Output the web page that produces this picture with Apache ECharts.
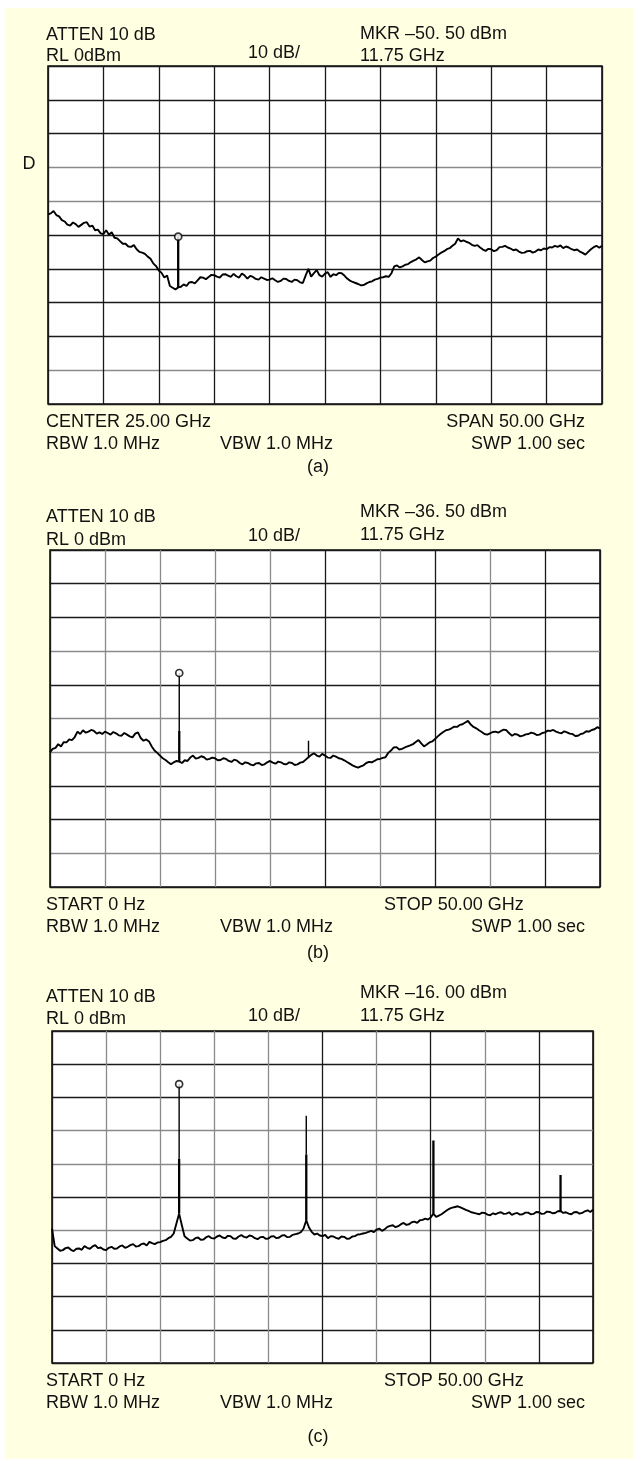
<!DOCTYPE html>
<html><head><meta charset="utf-8">
<script src="https://cdn.jsdelivr.net/npm/echarts/dist/echarts.min.js"></script>
<style>
html,body{margin:0;padding:0;background:#fff;}
#bg{position:absolute;left:6px;top:8px;width:627px;height:1451px;background:#FFFFE1;}
#c{position:absolute;left:0;top:0;width:633px;height:1459px;}
</style>
</head><body><div id="bg"></div><div id="c"></div>
<script>
// ---- data ----
const freqs = [0,0.25,0.5,0.75,1,1.25,1.5,1.75,2,2.25,
  2.5,2.75,3,3.25,3.5,3.75,4,4.25,4.5,4.75,
  5,5.25,5.5,5.75,6,6.25,6.5,6.75,7,7.25,
  7.5,7.75,8,8.25,8.5,8.75,9,9.25,9.5,9.75,
  10,10.25,10.5,10.75,11,11.25,11.5,11.75,12,12.25,
  12.5,12.75,13,13.25,13.5,13.75,14,14.25,14.5,14.75,
  15,15.25,15.5,15.75,16,16.25,16.5,16.75,17,17.25,
  17.5,17.75,18,18.25,18.5,18.75,19,19.25,19.5,19.75,
  20,20.25,20.5,20.75,21,21.25,21.5,21.75,22,22.25,
  22.5,22.75,23,23.25,23.5,23.75,24,24.25,24.5,24.75,
  25,25.25,25.5,25.75,26,26.25,26.5,26.75,27,27.25,
  27.5,27.75,28,28.25,28.5,28.75,29,29.25,29.5,29.75,
  30,30.25,30.5,30.75,31,31.25,31.5,31.75,32,32.25,
  32.5,32.75,33,33.25,33.5,33.75,34,34.25,34.5,34.75,
  35,35.25,35.5,35.75,36,36.25,36.5,36.75,37,37.25,
  37.5,37.75,38,38.25,38.5,38.75,39,39.25,39.5,39.75,
  40,40.25,40.5,40.75,41,41.25,41.5,41.75,42,42.25,
  42.5,42.75,43,43.25,43.5,43.75,44,44.25,44.5,44.75,
  45,45.25,45.5,45.75,46,46.25,46.5,46.75,47,47.25,
  47.5,47.75,48,48.25,48.5,48.75,49,49.25,49.5,49.75,
  50];
const traceA = [-43.9,-43.6,-42.9,-44.1,-44.5,-45.6,-46.0,-46.9,-47.2,-46.3,
  -46.8,-47.6,-47.0,-46.4,-46.2,-47.5,-47.2,-48.6,-48.4,-49.5,
  -49.7,-48.6,-49.9,-49.2,-50.8,-51.0,-51.8,-52.6,-52.6,-53.4,
  -53.5,-53.0,-54.2,-55.0,-55.2,-55.6,-56.4,-57.0,-58.4,-59.2,
  -60.5,-61.2,-62.6,-62.0,-65.1,-65.6,-66.1,-65.5,-65.3,-64.6,
  -65.1,-64.0,-63.9,-64.3,-63.4,-62.5,-62.6,-63.1,-62.4,-61.8,
  -61.9,-62.3,-62.6,-61.7,-61.6,-62.0,-62.4,-61.5,-62.2,-62.6,
  -61.4,-62.0,-62.9,-62.1,-62.4,-63.0,-63.2,-62.5,-62.9,-63.3,
  -63.2,-62.8,-63.4,-63.9,-63.6,-62.9,-63.0,-63.6,-63.9,-63.2,
  -63.4,-64.0,-64.2,-62.0,-60.0,-62.3,-61.3,-60.4,-61.9,-62.3,
  -61.4,-61.0,-62.4,-61.6,-61.9,-61.2,-61.3,-62.0,-62.9,-63.5,
  -63.9,-64.2,-64.5,-64.9,-64.8,-64.3,-63.9,-63.7,-63.2,-63.0,
  -62.6,-62.5,-62.2,-62.4,-61.3,-59.3,-59.0,-59.6,-59.3,-58.8,
  -58.6,-58.0,-57.6,-57.2,-56.6,-57.4,-58.1,-57.8,-57.6,-56.8,
  -56.4,-55.8,-55.2,-54.8,-54.2,-53.9,-53.2,-52.6,-51.0,-51.9,
  -51.6,-52.0,-52.3,-52.9,-53.2,-53.0,-53.7,-54.3,-54.7,-54.1,
  -54.2,-54.8,-54.5,-53.6,-53.5,-53.2,-53.7,-54.0,-54.5,-54.3,
  -54.9,-55.3,-55.2,-54.8,-54.7,-55.2,-54.9,-54.3,-54.5,-54.0,
  -54.2,-53.6,-53.7,-53.2,-53.5,-53.1,-53.9,-53.4,-53.7,-54.2,
  -54.5,-54.3,-54.9,-55.3,-55.8,-55.0,-54.2,-53.6,-53.2,-53.8,
  -53.2];
const traceB = [-60.0,-59.0,-58.7,-57.6,-58.3,-57.0,-57.1,-56.2,-56.4,-55.5,
  -53.9,-54.6,-53.5,-54.2,-53.9,-53.4,-53.7,-54.5,-54.1,-54.6,
  -53.9,-54.3,-54.8,-54.0,-54.4,-55.0,-55.1,-54.3,-54.8,-55.3,
  -55.6,-54.5,-54.1,-55.8,-56.6,-56.2,-56.8,-58.3,-59.5,-60.2,
  -61.0,-61.8,-62.3,-63.0,-63.6,-63.0,-62.6,-62.8,-63.2,-62.4,
  -62.6,-61.6,-61.0,-61.9,-61.7,-61.2,-61.5,-62.2,-62.0,-61.6,
  -61.8,-62.4,-62.3,-61.8,-62.0,-62.6,-62.9,-62.2,-62.5,-63.2,
  -63.6,-63.0,-63.2,-63.7,-63.9,-63.3,-63.2,-63.8,-63.6,-63.0,
  -62.6,-63.1,-63.4,-62.8,-63.0,-63.5,-63.6,-63.0,-63.2,-63.8,
  -63.6,-63.1,-62.9,-62.2,-61.5,-60.8,-60.3,-61.0,-61.3,-60.5,
  -61.0,-61.6,-61.7,-61.0,-61.3,-61.8,-62.0,-62.4,-62.9,-63.4,
  -63.9,-64.3,-64.6,-64.2,-63.9,-63.2,-62.9,-63.0,-62.6,-62.1,
  -62.0,-61.7,-61.5,-60.2,-59.5,-58.6,-58.5,-59.2,-59.0,-58.6,
  -58.3,-58.0,-57.6,-57.0,-56.4,-57.4,-58.3,-57.7,-57.1,-56.8,
  -56.1,-55.3,-54.6,-54.0,-53.5,-53.3,-52.9,-52.4,-52.5,-51.9,
  -51.7,-51.2,-50.7,-51.8,-52.5,-52.9,-53.5,-54.0,-54.6,-54.8,
  -54.4,-54.0,-53.9,-54.2,-53.7,-53.3,-53.5,-54.4,-55.1,-54.6,
  -54.8,-55.3,-55.1,-54.7,-54.6,-54.2,-54.4,-54.9,-54.8,-54.3,
  -54.1,-53.6,-53.7,-53.4,-53.9,-54.2,-54.4,-53.8,-54.1,-54.5,
  -54.6,-55.2,-55.1,-54.6,-54.4,-53.8,-53.9,-53.4,-53.2,-52.6,
  -52.9];
const traceC = [-59.5,-64.8,-65.5,-66.2,-66.0,-65.4,-65.2,-65.9,-66.3,-65.6,
  -65.5,-65.9,-64.8,-65.3,-65.6,-64.9,-64.5,-65.4,-65.2,-65.8,
  -66.0,-65.3,-65.0,-65.6,-65.5,-64.9,-64.6,-65.3,-65.0,-64.5,
  -64.2,-64.9,-64.8,-64.2,-64.0,-64.6,-63.5,-63.9,-64.2,-63.7,
  -63.6,-63.2,-63.0,-62.4,-62.0,-61.0,-58.0,-55.0,-58.5,-61.8,
  -62.5,-63.1,-63.0,-62.4,-62.2,-62.9,-62.8,-62.1,-61.8,-62.4,
  -62.5,-61.9,-61.6,-62.2,-62.4,-61.7,-61.8,-62.5,-62.6,-61.9,
  -61.5,-62.0,-62.2,-61.6,-61.8,-62.4,-62.7,-62.1,-62.0,-62.6,
  -62.5,-61.9,-61.8,-62.4,-62.2,-61.6,-61.5,-62.1,-62.0,-61.4,
  -61.2,-61.0,-60.6,-59.5,-57.0,-59.2,-60.5,-61.3,-61.0,-61.6,
  -61.8,-61.4,-62.4,-61.8,-61.9,-62.3,-62.6,-61.9,-62.0,-62.6,
  -62.5,-61.9,-61.8,-61.3,-61.2,-61.0,-60.8,-60.5,-60.2,-60.6,
  -59.8,-59.5,-60.2,-59.7,-59.0,-58.7,-58.5,-59.1,-58.8,-58.2,
  -57.8,-58.4,-58.2,-57.6,-57.4,-57.8,-57.0,-56.9,-56.5,-56.8,
  -56.2,-55.0,-56.0,-55.6,-55.2,-54.6,-54.0,-53.5,-53.2,-53.0,
  -52.8,-53.1,-53.5,-53.9,-54.2,-54.6,-54.8,-55.0,-55.2,-54.7,
  -54.8,-55.3,-55.5,-54.9,-55.2,-54.8,-54.6,-55.1,-55.0,-54.6,
  -55.4,-55.0,-54.8,-55.3,-55.2,-54.7,-54.7,-55.2,-55.1,-54.5,
  -54.6,-55.1,-55.0,-54.4,-54.5,-54.9,-54.8,-54.3,-54.2,-54.8,
  -54.6,-55.0,-55.2,-54.6,-54.5,-55.0,-54.8,-54.3,-54.0,-54.5,
  -53.8];
// spikes: [freq GHz, base dBm, top of thick part dBm, tip dBm]
const spikesA = [[11.75,-65.5,-50.5,-50.5]];
const spikesB = [[11.75,-62.8,-53.7,-36.5],[23.5,-61.5,-61.5,-56.6]];
const spikesC = [[11.75,-55.0,-38.5,-16.0],[23.5,-57.0,-37.2,-25.5],[35.25,-55.0,-33.0,-33.0],[47.0,-54.2,-43.4,-43.4]];
const markerA = [11.75,-50.5];
const markerB = [11.75,-36.5];
const markerC = [11.75,-16.0];
// axis: 0 dBm reference, 10 dB/div; 0..50 GHz, 5 GHz/div
const yTicks = [-100,-90,-80,-70,-60,-50,-40,-30,-20,-10,0];
const xTicks = [0,5,10,15,20,25,30,35,40,45,50];
// texts
const headA = ['ATTEN 10 dB','RL 0dBm','10 dB/','MKR \u201350. 50 dBm','11.75 GHz'];
const headB = ['ATTEN 10 dB','RL 0 dBm','10 dB/','MKR \u201336. 50 dBm','11.75 GHz'];
const headC = ['ATTEN 10 dB','RL 0 dBm','10 dB/','MKR \u201316. 00 dBm','11.75 GHz'];
const footA = ['CENTER 25.00 GHz','SPAN 50.00 GHz','RBW 1.0 MHz','VBW 1.0 MHz','SWP 1.00 sec'];
const footB = ['START 0 Hz','STOP 50.00 GHz','RBW 1.0 MHz','VBW 1.0 MHz','SWP 1.00 sec'];
const footC = ['START 0 Hz','STOP 50.00 GHz','RBW 1.0 MHz','VBW 1.0 MHz','SWP 1.00 sec'];
const captions = ['(a)','(b)','(c)'];
const sideLabel = 'D';

// ---- layout / style ----
const D = '#1a1a1a', G = '#8a8a8a';
const panels = [
  {left:48, top:66, right:602, bottom:404, trace:traceA, spikes:spikesA, marker:markerA, head:headA, foot:footA,
   hOff:[-31,-10,-13,-32,-10], stopLeft:false, cap:467,
   vCol:[D,D,D,D,D,D,D,D,D,D,D], hCol:[D,G,D,D,D,D,G,G,D,D,D]},
  {left:50, top:550, right:600, bottom:887, trace:traceB, spikes:spikesB, marker:markerB, head:headB, foot:footB,
   hOff:[-33,-10,-14,-38,-15], stopLeft:true, cap:953,
   vCol:[D,G,G,G,G,D,G,D,G,D,D], hCol:[D,G,D,D,G,G,D,G,D,D,D]},
  {left:52, top:1031, right:593, bottom:1363, trace:traceC, spikes:spikesC, marker:markerC, head:headC, foot:footC,
   hOff:[-34,-12,-15,-38,-15], stopLeft:true, cap:1437,
   vCol:[D,G,G,G,G,D,G,D,G,D,D], hCol:[D,D,D,D,G,D,G,G,D,D,D]}
];
const FONT = '18px "Liberation Sans", Arial, sans-serif';
const chart = echarts.init(document.getElementById('c'), null, {renderer:'canvas'});
const grids=[], xAxes=[], yAxes=[], series=[], graphics=[];
function txt(s,x,y,align){
  graphics.push({type:'text', z:100, style:{text:s, x:x, y:y, font:FONT, fill:'#111', textAlign:align||'left', textVerticalAlign:'middle'}});
}
panels.forEach((p,i)=>{
  grids.push({left:p.left, top:p.top, width:p.right-p.left, height:p.bottom-p.top, show:true,
    backgroundColor:'#fff', borderColor:'#111', borderWidth:1.6, containLabel:false});
  xAxes.push({type:'value', gridIndex:i, min:xTicks[0], max:xTicks[xTicks.length-1], interval:xTicks[1]-xTicks[0],
    axisLine:{show:false}, axisTick:{show:false}, axisLabel:{show:false},
    splitLine:{show:true, lineStyle:{color:p.vCol, width:1.3}}});
  yAxes.push({type:'value', gridIndex:i, min:yTicks[0], max:yTicks[yTicks.length-1], interval:yTicks[1]-yTicks[0],
    axisLine:{show:false}, axisTick:{show:false}, axisLabel:{show:false},
    splitLine:{show:true, lineStyle:{color:p.hCol, width:1.3}}});
  series.push({type:'line', xAxisIndex:i, yAxisIndex:i, data:freqs.map((f,k)=>[f,p.trace[k]]),
    symbol:'none', lineStyle:{color:'#000', width:1.9}, silent:true, z:5});
  p.spikes.forEach(s=>{
    series.push({type:'line', xAxisIndex:i, yAxisIndex:i, data:[[s[0],s[1]],[s[0],s[2]]], symbol:'none',
      lineStyle:{color:'#000', width:2.3}, silent:true, z:6});
    if (s[3]!==s[2]) series.push({type:'line', xAxisIndex:i, yAxisIndex:i, data:[[s[0],s[2]],[s[0],s[3]]], symbol:'none',
      lineStyle:{color:'#000', width:1.4}, silent:true, z:6});
  });
  series.push({type:'scatter', xAxisIndex:i, yAxisIndex:i, data:[p.marker], symbol:'circle', symbolSize:7,
    itemStyle:{color:'#fff', borderColor:'#000', borderWidth:1.7}, silent:true, z:7});
  const T=p.top, B=p.bottom;
  txt(p.head[0], 46, T+p.hOff[0]);
  txt(p.head[1], 46, T+p.hOff[1]);
  txt(p.head[2], 248, T+p.hOff[2]);
  txt(p.head[3], 360, T+p.hOff[3]);
  txt(p.head[4], 360, T+p.hOff[4]);
  txt(p.foot[0], 46, B+18);
  if (p.stopLeft) txt(p.foot[1], 384, B+18); else txt(p.foot[1], 585, B+18, 'right');
  txt(p.foot[2], 46, B+40);
  txt(p.foot[3], 220, B+40);
  txt(p.foot[4], 585, B+40, 'right');
  txt(captions[i], 318, p.cap, 'center');
});
txt(sideLabel, 29, 164, 'center');
chart.setOption({animation:false, backgroundColor:'transparent', grid:grids, xAxis:xAxes, yAxis:yAxes, series:series, graphic:graphics});
</script>
</body></html>
